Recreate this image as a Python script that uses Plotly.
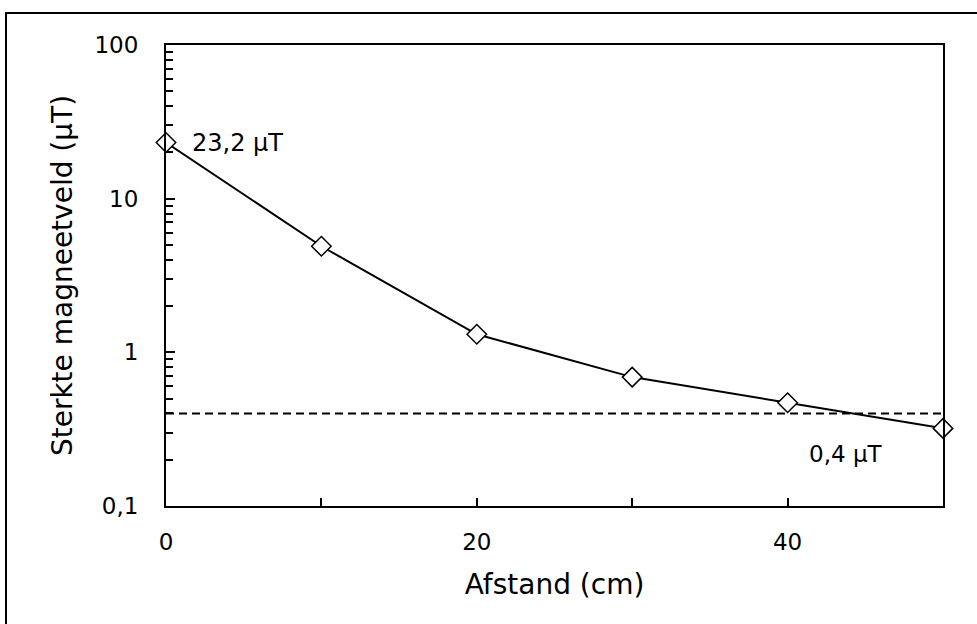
import math
import plotly.graph_objects as go

afstand = [0, 10, 20, 30, 40, 50]
sterkte = [23.2, 4.9, 1.31, 0.69, 0.47, 0.32]
norm_waarde = 0.4
x_ticks = [0, 10, 20, 30, 40, 50]
x_ticktext = ["0", "", "20", "", "40", ""]
y_ticks = [0.1, 1, 10, 100]
y_ticktext = ["0,1", "1", "10", "100"]
y_minor = [m * 10 ** e for e in (-1, 0, 1) for m in range(2, 10)]

FONT = "DejaVu Sans"
FS = 23
W, H = 977, 624
L, R, T, B = 166, 34, 45, 118
pw, ph = W - L - R, H - T - B

def px(x):
    return (x - L) / pw

def py(y):
    return (H - B - y) / ph

fig = go.Figure()
fig.add_trace(go.Scatter(
    x=[afstand[0], afstand[-1]], y=[norm_waarde, norm_waarde], mode="lines",
    line=dict(color="black", width=2, dash="8px,5px"), hoverinfo="skip", showlegend=False))
fig.add_trace(go.Scatter(
    x=afstand, y=sterkte, mode="lines+markers", cliponaxis=False,
    line=dict(color="black", width=2),
    marker=dict(symbol="diamond", size=15, color="white", line=dict(color="black", width=1.5)),
    showlegend=False))

fig.add_annotation(x=afstand[0], y=math.log10(sterkte[0]), text="23,2 µT", showarrow=False,
                   xanchor="left", yanchor="middle", xshift=24,
                   font=dict(family=FONT, size=24, color="black"))
fig.add_annotation(x=afstand[-1], y=math.log10(norm_waarde), text="0,4 µT", showarrow=False,
                   xanchor="right", yanchor="middle", xshift=-58, yshift=-41,
                   font=dict(family=FONT, size=FS, color="black"))

fig.add_shape(type="rect", xref="paper", yref="paper",
              x0=px(6), x1=px(990), y0=py(640), y1=py(13),
              line=dict(color="black", width=2), fillcolor="rgba(0,0,0,0)", layer="above")

fig.update_layout(
    width=W, height=H, margin=dict(l=L, r=R, t=T, b=B),
    paper_bgcolor="white", plot_bgcolor="white",
    font=dict(family=FONT, size=FS, color="black"),
    xaxis=dict(range=[0, 50], tickvals=x_ticks, ticktext=x_ticktext,
               ticks="inside", ticklen=8, tickwidth=2, tickcolor="black",
               ticklabelstandoff=14,
               showline=True, linewidth=2, linecolor="black", mirror=True,
               showgrid=False, zeroline=False,
               title=dict(text="Afstand (cm)", standoff=21),
               tickfont=dict(size=FS)),
    yaxis=dict(type="log", range=[-1, 2], tickvals=y_ticks, ticktext=y_ticktext,
               ticks="inside", ticklen=9, tickwidth=2, tickcolor="black",
               ticklabelstandoff=21,
               minor=dict(tickvals=y_minor, ticks="inside", ticklen=7, tickwidth=2,
                          tickcolor="black", showgrid=False),
               showline=True, linewidth=2, linecolor="black", mirror=True,
               showgrid=False, zeroline=False,
               title=dict(text="Sterkte magneetveld (µT)", standoff=14),
               tickfont=dict(size=FS)),
)

fig.write_html("out.html")
